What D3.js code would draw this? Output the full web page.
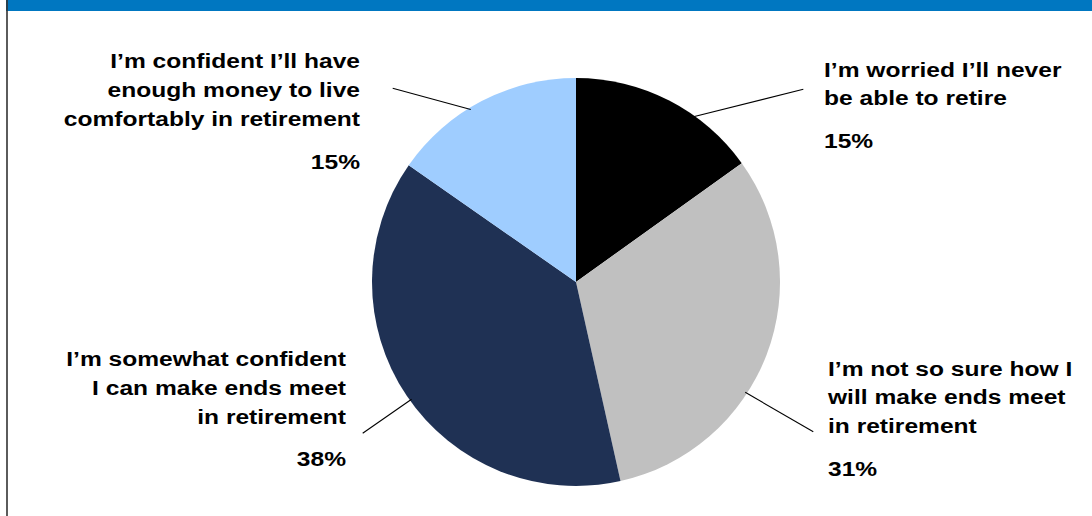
<!DOCTYPE html>
<html>
<head>
<meta charset="utf-8">
<script src="https://cdn.jsdelivr.net/npm/d3@7"></script>
<style>
  html, body { margin: 0; padding: 0; background: #ffffff; }
  svg { display: block; }
</style>
</head>
<body>
<div id="chart"></div>
<script>
// Slices, clockwise from 12 o'clock
const categories = [
  'I\u2019m worried I\u2019ll never\nbe able to retire',
  'I\u2019m not so sure how I\nwill make ends meet\nin retirement',
  'I\u2019m somewhat confident\nI can make ends meet\nin retirement',
  'I\u2019m confident I\u2019ll have\nenough money to live\ncomfortably in retirement'
];
const shares = [ 15.1, 31.4, 38.2, 15.3 ];
const pctLabels = [ '15%', '31%', '38%', '15%' ];
const sliceColors = [ '#000000', '#c0c0c0', '#1f3154', '#9fcdff' ];

// label placement (layout only)
const labelLayout = [
  { x: 824, anchor: 'start', y: 76.7, pctGap: 42.3, leadAngle: 35.2,  leadEnd: [ 803.3, 89.3 ] },
  { x: 828, anchor: 'start', y: 375.7, pctGap: 42.4, leadAngle: 123.1, leadEnd: [ 813.3, 431.7 ] },
  { x: 346, anchor: 'end',   y: 366,   pctGap: 42.4, leadAngle: 234.5, leadEnd: [ 362.7, 433.3 ] },
  { x: 360, anchor: 'end',   y: 68.5,  pctGap: 42.7, leadAngle: 328.6, leadEnd: [ 392.7, 88.3 ] }
];

const figure_width = 1092;
const figure_height = 516;
const cx = 576, cy = 282, radius = 204;
const lineHeight = 28.8;
const stretch = 1.17;
const labelStyle = 'font-family: "Liberation Sans", Arial, sans-serif; font-weight: bold; font-size: 21px;';

const svg = d3.select( 'div#chart' )
  .append( 'svg' )
    .attr( 'width', figure_width )
    .attr( 'height', figure_height );

// header bar and left rule
svg.append( 'rect' )
  .attr( 'x', 6 ).attr( 'y', 0 )
  .attr( 'width', figure_width - 6 ).attr( 'height', 11 )
  .attr( 'fill', '#0077c1' );
svg.append( 'line' )
  .attr( 'x1', 7 ).attr( 'x2', 7 )
  .attr( 'y1', 0 ).attr( 'y2', figure_height )
  .attr( 'stroke', '#333333' )
  .attr( 'stroke-width', 1.6 );

const pie = d3.pie().sort( null ).value( function(d){ return d; } );
const arcs = pie( shares );
const arc = d3.arc().innerRadius( 0 ).outerRadius( radius );

const pieG = svg.append( 'g' )
  .attr( 'transform', 'translate(' + cx + ',' + cy + ')' );

pieG.selectAll( 'path' )
  .data( arcs )
  .enter()
  .append( 'path' )
    .attr( 'd', arc )
    .attr( 'fill', function(d,i){ return sliceColors[i]; } );

// leader lines
svg.append( 'g' )
  .selectAll( 'line' )
  .data( labelLayout )
  .enter()
  .append( 'line' )
    .attr( 'x1', function(d){ return cx + Math.sin( d.leadAngle * Math.PI / 180 ) * ( radius - 2 ); } )
    .attr( 'y1', function(d){ return cy - Math.cos( d.leadAngle * Math.PI / 180 ) * ( radius - 2 ); } )
    .attr( 'x2', function(d){ return d.leadEnd[0]; } )
    .attr( 'y2', function(d){ return d.leadEnd[1]; } )
    .attr( 'stroke', '#000000' )
    .attr( 'stroke-width', 1.1 );

// labels
const labels = svg.append( 'g' )
  .selectAll( 'g' )
  .data( categories )
  .enter()
  .append( 'g' )
    .attr( 'transform', function(d,i){ return 'translate(' + labelLayout[i].x + ',0) scale(' + stretch + ',1)'; } );

labels.each( function( d, i ) {
  const g = d3.select( this );
  const lay = labelLayout[i];
  const lines = d.split( '\n' );
  lines.forEach( function( line, j ) {
    g.append( 'text' )
      .attr( 'x', 0 )
      .attr( 'y', lay.y + j * lineHeight )
      .attr( 'text-anchor', lay.anchor )
      .attr( 'style', labelStyle )
      .attr( 'fill', '#000000' )
      .text( line );
  });
  g.append( 'text' )
    .attr( 'x', 0 )
    .attr( 'y', lay.y + ( lines.length - 1 ) * lineHeight + lay.pctGap )
    .attr( 'text-anchor', lay.anchor )
    .attr( 'style', labelStyle )
    .attr( 'fill', '#000000' )
    .text( pctLabels[i] );
});
</script>
</body>
</html>
